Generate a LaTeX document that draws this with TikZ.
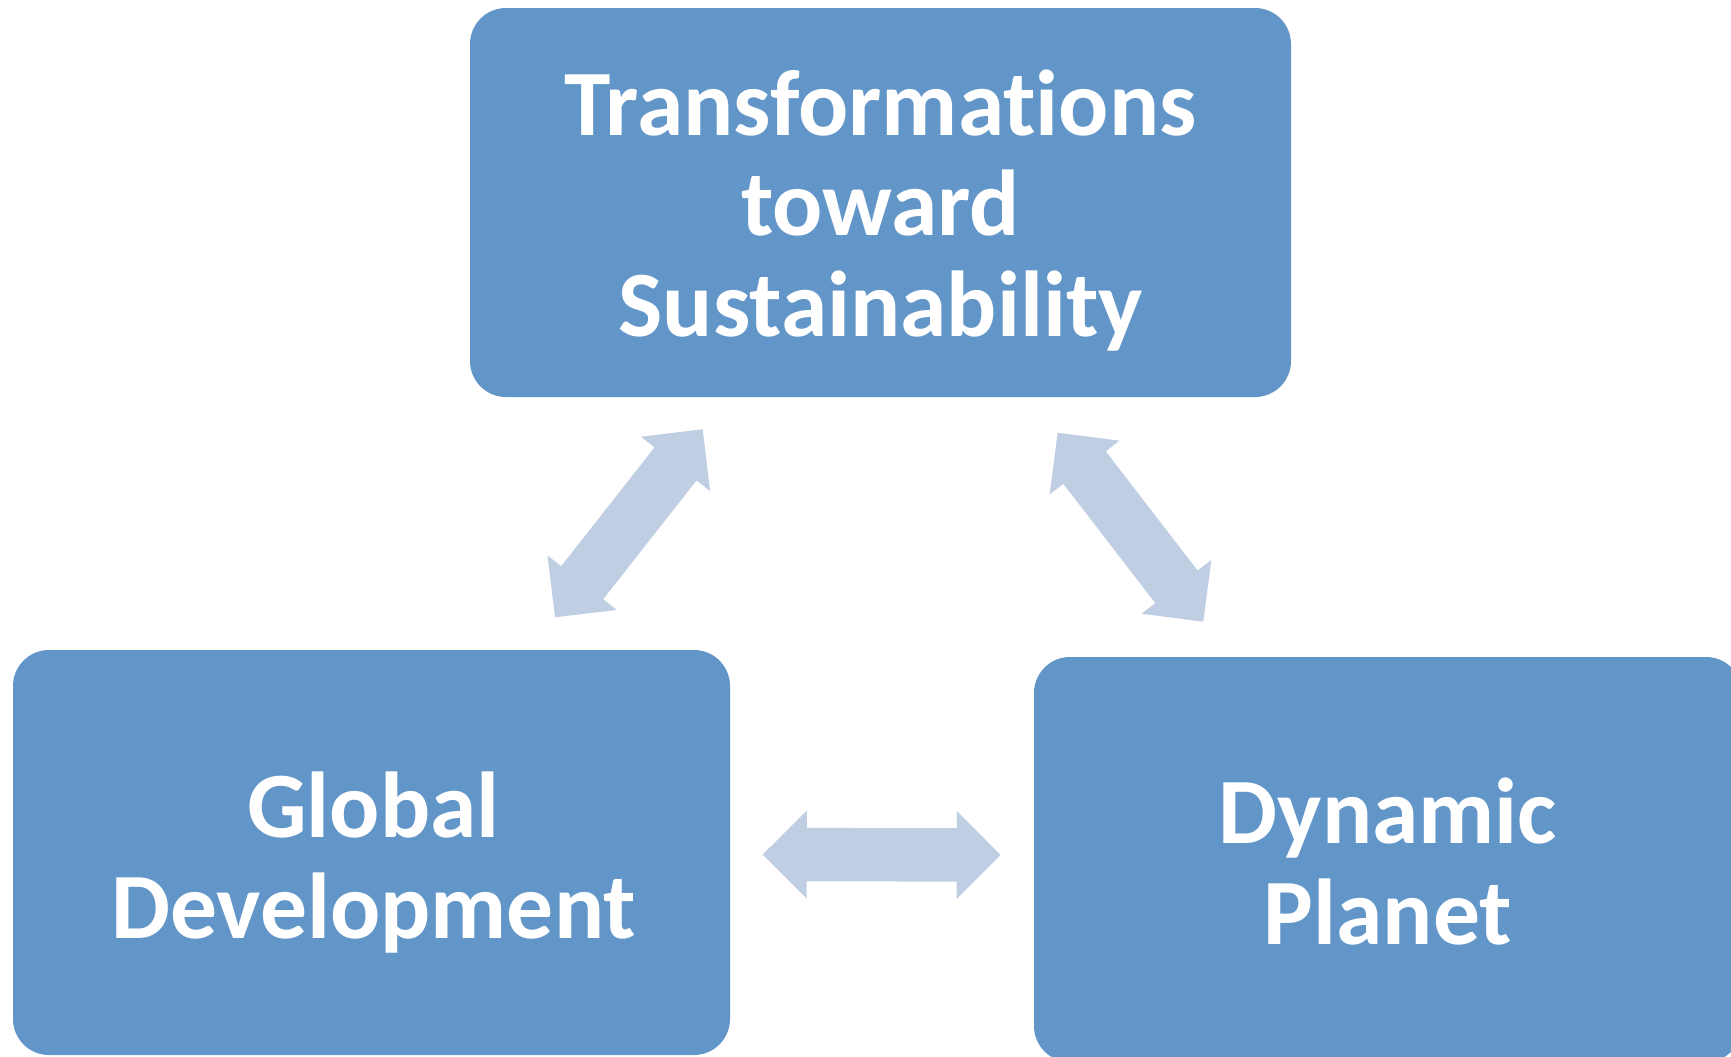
\documentclass[tikz,border=0pt]{standalone}
\usepackage{fontspec}
\setmainfont{Carlito}[Ligatures=NoCommon]
\usetikzlibrary{calc}
\definecolor{boxc}{HTML}{6296C8}
\definecolor{arrowc}{HTML}{BFCEE3}
\tikzset{
  box/.style={fill=boxc, draw=none, rounded corners=18pt, inner sep=0pt},
  boxtext/.style={text=white, align=center, inner sep=0pt,
    font=\bfseries\fontsize{46.8}{50.25}\selectfont},
}
\newcommand\fatarrow[2]{%
  \fill[arrowc] (#1) -- ($(#1)!31.1pt!45:(#2)$) -- ($(#1)!25.74pt!31.25:(#2)$)
    -- ($(#2)!25.74pt!-31.25:(#1)$) -- ($(#2)!31.1pt!-45:(#1)$) -- (#2)
    -- ($(#2)!31.1pt!45:(#1)$) -- ($(#2)!25.74pt!31.25:(#1)$)
    -- ($(#1)!25.74pt!-31.25:(#2)$) -- ($(#1)!31.1pt!-45:(#2)$) -- cycle;}
\begin{document}
\begin{tikzpicture}[x=0.5pt,y=-0.5pt]
\clip (0,0) rectangle (1731,1056);
\fill[white] (0,0) rectangle (1731,1056);
\node[box, minimum width=410.5pt, minimum height=194.5pt] (top) at (880.5,202.5) {};
\node[boxtext] (toptext) at ([yshift=-4pt]top.center) {Transformations\\toward\\Sustainability};
\node[box, minimum width=358.5pt, minimum height=202.5pt] (left) at (371.5,852.5) {};
\node[boxtext] (lefttext) at ([xshift=1pt,yshift=-5pt]left.center) {Global\\Development};
\node[box, minimum width=354pt, minimum height=202.5pt] (right) at (1388,859.5) {};
\node[boxtext] (righttext) at ([yshift=-1pt]right.center) {Dynamic\\Planet};
\coordinate (a1) at (702.7,429.3);
\coordinate (b1) at (555,617.3);
\coordinate (a2) at (1057.7,432.7);
\coordinate (b2) at (1203.3,621.7);
\coordinate (a3) at (762.7,854.5);
\coordinate (b3) at (1000.7,855);
\fatarrow{a1}{b1}
\fatarrow{a2}{b2}
\fatarrow{a3}{b3}
\end{tikzpicture}
\end{document}
